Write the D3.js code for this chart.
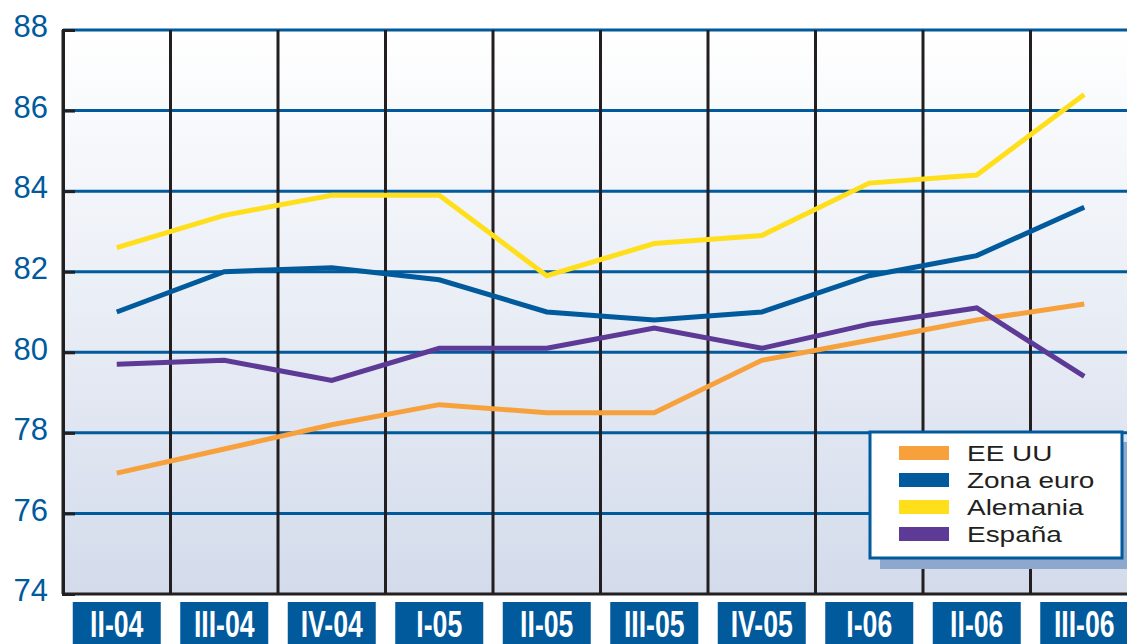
<!DOCTYPE html>
<html>
<head>
<meta charset="utf-8">
<script src="https://cdn.jsdelivr.net/npm/d3@7"></script>
<style>
  body { margin: 0; background: #fff; }
  svg { display: block; }
</style>
</head>
<body>
<script>
// quarters on the x axis
const quarters = ['II-04', 'III-04', 'IV-04', 'I-05', 'II-05', 'III-05', 'IV-05', 'I-06', 'II-06', 'III-06'];
const yTicks = [74, 76, 78, 80, 82, 84, 86, 88];

// series values
const eeuu = [77.0, 77.6, 78.2, 78.7, 78.5, 78.5, 79.8, 80.3, 80.8, 81.2];
const zonaEuro = [81.0, 82.0, 82.1, 81.8, 81.0, 80.8, 81.0, 81.9, 82.4, 83.6];
const alemania = [82.6, 83.4, 83.9, 83.9, 81.9, 82.7, 82.9, 84.2, 84.4, 86.4];
const espana = [79.7, 79.8, 79.3, 80.1, 80.1, 80.6, 80.1, 80.7, 81.1, 79.4];

const seriesNames = ['EE UU', 'Zona euro', 'Alemania', 'España'];

const series = [
  {name: seriesNames[0], values: eeuu, color: '#f7a13d'},
  {name: seriesNames[1], values: zonaEuro, color: '#005a9c'},
  {name: seriesNames[2], values: alemania, color: '#ffdf1b'},
  {name: seriesNames[3], values: espana, color: '#5c3a95'}
];

const width = 1127;
const height = 644;
const margin = {top: 30, left: 63, bottom: 50};
const plotBottom = height - margin.bottom; // 594

const svg = d3.select('body').append('svg')
  .attr('width', width)
  .attr('height', height);

// scales
const xScale = d3.scaleBand()
  .domain(quarters)
  .range([margin.left, margin.left + 107.5 * quarters.length])
  .padding(0);

const yScale = d3.scaleLinear()
  .domain([74, 88])
  .range([plotBottom, margin.top]);

// background gradient
const defs = svg.append('defs');
const grad = defs.append('linearGradient')
  .attr('id', 'bg').attr('x1', 0).attr('y1', 0).attr('x2', 0).attr('y2', 1);
grad.append('stop').attr('offset', '0%').attr('stop-color', '#ffffff');
grad.append('stop').attr('offset', '100%').attr('stop-color', '#d3dbeb');

svg.append('rect')
  .attr('x', margin.left)
  .attr('y', margin.top)
  .attr('width', width - margin.left)
  .attr('height', plotBottom - margin.top)
  .attr('fill', 'url(#bg)');

// horizontal grid lines (blue)
svg.append('g')
  .selectAll('line')
  .data(yTicks.filter(d => d > 74))
  .join('line')
  .attr('x1', margin.left)
  .attr('x2', width)
  .attr('y1', d => yScale(d))
  .attr('y2', d => yScale(d))
  .attr('stroke', '#005a9c')
  .attr('stroke-width', 3);

// vertical lines at the band edges
svg.append('g')
  .selectAll('line')
  .data(quarters)
  .join('line')
  .attr('x1', d => xScale(d))
  .attr('x2', d => xScale(d))
  .attr('y1', margin.top)
  .attr('y2', plotBottom)
  .attr('stroke', '#231f20')
  .attr('stroke-width', 3);

// bottom line
svg.append('line')
  .attr('x1', margin.left)
  .attr('x2', width)
  .attr('y1', plotBottom)
  .attr('y2', plotBottom)
  .attr('stroke', '#231f20')
  .attr('stroke-width', 3);

// Y axis
const yAxis = d3.axisLeft(yScale).tickValues(yTicks).tickSize(-12).tickPadding(15);
const yG = svg.append('g')
  .attr('transform', `translate(${margin.left},0)`)
  .call(yAxis);
yG.select('.domain').attr('stroke', '#231f20').attr('stroke-width', 3);
yG.selectAll('.tick line').attr('stroke', '#231f20').attr('stroke-width', 3);
yG.selectAll('.tick text')
  .attr('fill', '#005a9c')
  .attr('font-family', 'Liberation Sans, Arial, sans-serif')
  .attr('font-size', 31)
  .attr('dy', '0.22em');

// lines
const line = d3.line()
  .x((d, i) => xScale(quarters[i]) + xScale.bandwidth() / 2)
  .y(d => yScale(d));

svg.append('g')
  .selectAll('path')
  .data(series)
  .join('path')
  .attr('d', d => line(d.values))
  .attr('fill', 'none')
  .attr('stroke', d => d.color)
  .attr('stroke-width', 5)
  .attr('stroke-linejoin', 'miter');

// X labels as blue boxes
const xLab = svg.append('g')
  .selectAll('g')
  .data(quarters)
  .join('g')
  .attr('transform', d => `translate(${xScale(d) + xScale.bandwidth() / 2},0)`);

xLab.append('rect')
  .attr('x', -44)
  .attr('y', 602)
  .attr('width', 88)
  .attr('height', 46)
  .attr('fill', '#005a9c');

xLab.append('text')
  .attr('transform', 'translate(0,637) scale(0.72,1)')
  .attr('text-anchor', 'middle')
  .attr('fill', 'white')
  .attr('font-family', 'Liberation Sans, Arial, sans-serif')
  .attr('font-weight', 'bold')
  .attr('font-size', 37)
  .text(d => d);

// legend
const legend = svg.append('g');
legend.append('rect')
  .attr('x', 880).attr('y', 442)
  .attr('width', 260).attr('height', 127)
  .attr('fill', '#8ea7cd');
legend.append('rect')
  .attr('x', 870).attr('y', 432)
  .attr('width', 252).attr('height', 126)
  .attr('fill', 'white')
  .attr('stroke', '#005a9c')
  .attr('stroke-width', 3);

const items = legend.selectAll('g.item')
  .data(series)
  .join('g')
  .attr('class', 'item')
  .attr('transform', (d, i) => `translate(899,${453 + i * 27})`);

items.append('rect')
  .attr('x', 0).attr('y', -7)
  .attr('width', 50).attr('height', 14)
  .attr('fill', d => d.color);

items.append('text')
  .attr('transform', 'translate(68,8) scale(1.3,1)')
  .attr('fill', '#231f20')
  .attr('font-family', 'Liberation Sans, Arial, sans-serif')
  .attr('font-size', 21.5)
  .text(d => d.name);
</script>
</body>
</html>
